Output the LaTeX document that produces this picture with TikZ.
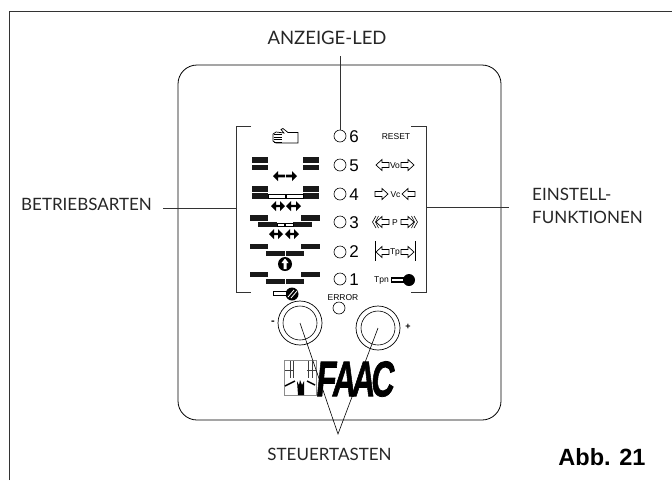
\documentclass[tikz,border=0pt]{standalone}
\usepackage{fontspec}
\setmainfont{Lato}
\newfontfamily\arialfont{Liberation Sans}
\newfontfamily\logofont[FakeBold=1.6,FakeSlant=0.16]{Liberation Sans Bold}
\usetikzlibrary{calc}

\tikzset{
  label/.style={inner sep=0pt,font=\fontsize{17}{23}\selectfont,text=black!85},
  small/.style={inner sep=0pt,font=\arialfont\fontsize{8.5}{10}\selectfont},
  digit/.style={inner sep=0pt,font=\arialfont\fontsize{17}{18}\selectfont},
  led/.style={draw,circle,inner sep=0pt,minimum size=12pt,line width=0.6pt},
  knob/.style={draw,circle,inner sep=0pt,minimum size=44pt,line width=0.7pt},
  leader/.style={line width=0.7pt,black!80}
}

% one black bar
\newcommand{\bbar}[4]{\fill[black!90] (#1,#2) rectangle (#3,#4);}
% one white bar
\newcommand{\wbar}[4]{\draw[line width=0.6pt,fill=white] (#1,#2) rectangle (#3,#4);}
% hollow arrow, #3 is 1 for right and -1 for left
\newcommand{\harrow}[3]{\draw[line width=0.7pt,fill=white,shift={(#1,#2)},xscale=#3] (0,-2.5) -- (7,-2.5) -- (7,-5.5) -- (13,0) -- (7,5.5) -- (7,2.5) -- (0,2.5) -- cycle;}
% black arrow with two heads: left end, right end, height
\newcommand{\bothway}[3]{\fill (#1,#3) -- ++(5,-5) -- ++(0,3.8) -- (#2-5,#3-1.2) -- ++(0,-3.8) -- (#2,#3) -- ++(-5,5) -- ++(0,-3.8) -- (#1+5,#3+1.2) -- ++(0,3.8) -- cycle;}
% black arrow with one head: tip, tail, height
\newcommand{\oneway}[3]{\fill (#1,#3) -- ($(#1,#3)!5pt!(#2,#3)+(0,-5)$) -- ($(#1,#3)!5pt!(#2,#3)+(0,-1.3)$) -- (#2,#3-1.3) -- (#2,#3+1.3) -- ($(#1,#3)!5pt!(#2,#3)+(0,1.3)$) -- ($(#1,#3)!5pt!(#2,#3)+(0,5)$) -- cycle;}

\begin{document}
\begin{tikzpicture}[x=1pt,y=-1pt]
\useasboundingbox (0,0) rectangle (672,480);
\fill[white] (0,0) rectangle (672,480);
\draw[line width=0.7pt,black!80] (9,480) -- (9,11) -- (672,11);
\draw[line width=0.8pt,rounded corners=19pt] (178,65) rectangle (501,420);

% labels
\node[label,font=\fontsize{18.5}{23}\selectfont] (anzeige) at (327,38) {ANZEIGE-LED};
\node[label,anchor=west] (betrieb) at (21,204) {BETRIEBSARTEN};
\node[label,anchor=west,align=left] (einstell) at (532,205.5) {EINSTELL-\\FUNKTIONEN};
\node[label] (steuer) at (329.5,454) {STEUERTASTEN};
\node[inner sep=0pt,font=\arialfont\bfseries\fontsize{23.5}{26}\selectfont] (abb) at (602,457) {Abb. 21};

% leds
\node[led] (led6) at (340,136) {};
\node[led] (led5) at (340,165) {};
\node[led] (led4) at (340,194) {};
\node[led] (led3) at (340,222) {};
\node[led] (led2) at (340,252) {};
\node[led] (led1) at (340,279) {};
\node[led] (lederror) at (339,308) {};
\node[digit] (num6) at (354,136.5) {6};
\node[digit] (num5) at (354,166) {5};
\node[digit] (num4) at (354,195) {4};
\node[digit] (num3) at (354,223) {3};
\node[digit] (num2) at (354,252) {2};
\node[digit] (num1) at (354,280) {1};
\node[small] (errortext) at (343,298) {ERROR};

% knobs
\node[knob] (knobl) at (300,323) {};
\node[knob] (knobr) at (378,328) {};
\draw[line width=0.6pt] (knobl) circle (17);
\draw[line width=0.6pt] (knobr) circle (17);
\node[small,font=\arialfont\bfseries\fontsize{11}{12}\selectfont] (minus) at (273,322.5) {-};
\node[small,font=\arialfont\bfseries\fontsize{9}{12}\selectfont] (plus) at (408,327) {+};

% brackets
\coordinate (bl1) at (251,126);
\coordinate (bl2) at (236,126);
\coordinate (bl3) at (236,292);
\coordinate (bl4) at (251,292);
\coordinate (bl5) at (236,208);
\coordinate (br1) at (411,126);
\coordinate (br2) at (426,126);
\coordinate (br3) at (426,292);
\coordinate (br4) at (411,292);
\coordinate (br5) at (426,207);
\coordinate (lefttip) at (163,208);
\coordinate (righttip) at (509,207);
\coordinate (ledtip) at (340,56);
\coordinate (tastentip) at (338,434);
\draw[leader] (bl1) -- (bl2) -- (bl3) -- (bl4);
\draw[leader] (br1) -- (br2) -- (br3) -- (br4);
\draw[leader] (lefttip) -- (bl5);
\draw[leader] (br5) -- (righttip);
\draw[leader] (ledtip) -- (led6);

% hand
\draw[line width=0.7pt,fill=white] (298,132.5) -- (288,132.5) -- (283,128.5) -- (281,129.5) -- (284,133) -- (276,132) -- (273,134) -- (273,141) -- (276,143) -- (298,143) -- cycle;
\foreach \y in {134.5,137,139.5,142} \draw[line width=1pt] (273.5,\y) -- (282,\y);

% row 5
\bbar{252}{157}{268}{163} \bbar{303}{157}{319}{163}
\bbar{252}{165}{268}{170} \bbar{303}{165}{319}{170}
\oneway{273}{285}{176}
\oneway{297}{286}{176}

% row 4
\bbar{252}{186}{268}{192} \bbar{303}{186}{319}{192}
\bbar{252}{193}{268}{199} \bbar{303}{193}{319}{199}
\wbar{268}{194}{285}{198} \wbar{286}{194}{303}{198}
\bothway{271}{285}{206}
\bothway{286}{301}{206}

% row 3
\bbar{250}{215}{268}{221} \bbar{301}{215}{320}{221}
\bbar{258}{222}{277}{227} \bbar{293}{222}{312}{227}
\wbar{277}{223}{284}{226} \wbar{285}{223}{293}{226}
\bothway{269}{283}{234}
\bothway{285}{299}{234}

% row 2
\bbar{250}{244}{268}{249} \bbar{301}{244}{320}{249}
\bbar{266}{251}{285}{256} \bbar{286}{251}{304}{256}
\fill (285,264) circle (7);
\fill[white] (285,258.5) -- (288.5,263) -- (286.5,263) -- (286.5,269) -- (283.5,269) -- (283.5,263) -- (281.5,263) -- cycle;

% row 1
\bbar{250}{272}{268}{277} \bbar{301}{272}{320}{277}
\bbar{266}{279}{285}{284} \bbar{286}{279}{304}{284}
\fill (292,294) circle (6.5);
\draw[line width=0.8pt,white] (288,297) -- (294,290);
\draw[line width=0.8pt,white] (291,298) -- (297,291);
\draw[line width=1.2pt,fill=white] (273.5,291.5) rectangle (287,295.5);

% right column
\node[small] (reset) at (396,137) {RESET};
\harrow{389}{165}{-1} \harrow{401}{165}{1}
\node[small] (vo) at (395,165.5) {Vo};
\harrow{375}{194}{1} \harrow{415}{194}{-1}
\node[small] (vc) at (395.5,195) {Vc};
\harrow{389}{222}{-1} \harrow{401}{222}{1}
\draw[line width=0.6pt] (376,216) -- (372.5,222) -- (376,228) (378.5,216) -- (375.5,222) -- (378.5,228);
\draw[line width=0.6pt] (414,216) -- (417.5,222) -- (414,228) (411.5,216) -- (414.5,222) -- (411.5,228);
\node[small] (pp) at (395,222.5) {P};
\harrow{389}{252}{-1} \harrow{401}{252}{1}
\draw[line width=0.7pt] (375.5,241) -- (375.5,261) (415,241) -- (415,261);
\node[small] (tp) at (395,252.5) {Tp};
\node[small] (tpn) at (381.5,280.5) {Tpn};
\draw[line width=1.2pt,fill=white] (391.5,278) rectangle (405,282);
\fill (409,280) circle (6);

% logo
\draw[black!45,line width=0.5pt,fill=white] (284.5,360.5) rectangle (316,395);
\foreach \x in {290,293,308,312} \draw[line width=0.4pt,black!75] (\x,361) -- (\x,378);
\draw[line width=0.4pt,black!75] (285,370) -- (294,370) (307,370) -- (316,370);
\draw[line width=1.5pt] (285,386) -- (295,381) (307,381) -- (315,385);
\fill (297,381) -- (299,385) -- (300,380) -- (302,385) -- (304,381) -- (304,395) -- (298,395) -- cycle;
\node[inner sep=0pt,anchor=west,font=\logofont\fontsize{50}{50}\selectfont] (faac) at (315,379) {\scalebox{.64}[1]{F\kern-5ptA\kern-6ptA\kern-6ptC}};

% leaders to the knobs
\draw[line width=0.6pt] (knobl.center) -- (tastentip) -- (knobr.center);
\end{tikzpicture}
\end{document}
